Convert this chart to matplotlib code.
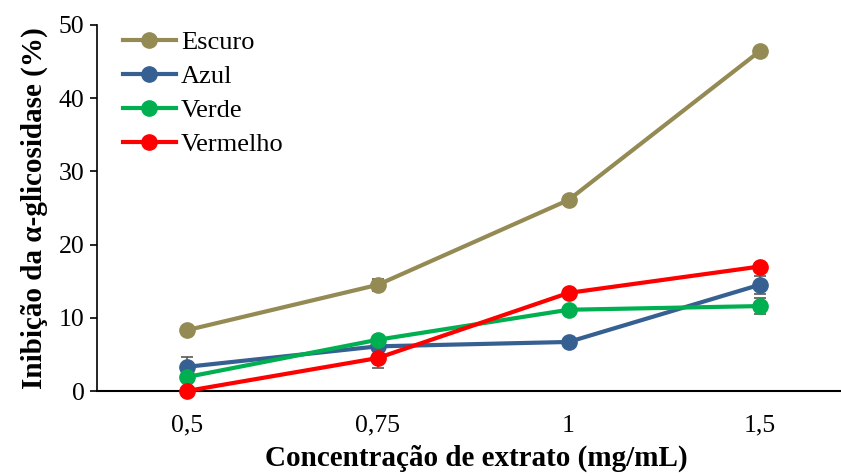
import matplotlib
matplotlib.use("Agg")
import matplotlib.pyplot as plt

categories = ["0,5", "0,75", "1", "1,5"]
escuro = [8.3, 14.5, 26.1, 46.4]
escuro_err = [0.3, 0.8, 0.5, 0.4]
azul = [3.3, 6.1, 6.7, 14.5]
azul_err = [1.4, 0.4, 0.3, 1.2]
verde = [1.9, 7.0, 11.1, 11.6]
verde_err = [0.3, 0.4, 0.3, 1.1]
vermelho = [0.0, 4.5, 13.4, 17.0]
vermelho_err = [0.2, 1.3, 0.6, 0.5]

series = [
    ("Escuro", escuro, escuro_err, "#948A54"),
    ("Azul", azul, azul_err, "#376092"),
    ("Verde", verde, verde_err, "#00B050"),
    ("Vermelho", vermelho, vermelho_err, "#FF0000"),
]

plt.rcParams['font.family'] = ['Liberation Serif', 'DejaVu Serif']

fig = plt.figure(figsize=(8.41, 4.76), dpi=100)
ax = fig.add_axes([97/841, 85/476, 758/841, 366/476])
x = list(range(len(categories)))

for name, vals, err, col in series:
    ax.errorbar(x, vals, yerr=err, fmt='none', ecolor='#595959', elinewidth=1.2,
                capsize=4, capthick=1.2, zorder=2)
for name, vals, err, col in series:
    ax.plot(x, vals, color=col, lw=3.0, marker='o', ms=11, label=name, zorder=3,
            clip_on=False)

ax.set_xlim(-0.47, 3.5)
ax.set_ylim(0, 50)
ax.set_yticks([0, 10, 20, 30, 40, 50])
ax.set_xticks(x)
ax.set_xticklabels(categories)
ax.tick_params(axis='x', length=0, pad=17, labelsize=18.5)
ax.tick_params(axis='y', length=5, width=1.2, direction='out', labelsize=18.5, pad=4)
for s in ['top', 'right']:
    ax.spines[s].set_visible(False)
ax.spines['left'].set_linewidth(1.2)
ax.spines['bottom'].set_linewidth(1.5)

ax.set_xlabel("Concentração de extrato (mg/mL)", fontsize=21, fontweight='bold', labelpad=6)
ax.set_ylabel("Inibição da α-glicosidase (%)", fontsize=21, fontweight='bold', labelpad=8)

leg = ax.legend(loc='upper left', bbox_to_anchor=(0.003, 1.05), frameon=False,
                fontsize=19, handlelength=2.0, handletextpad=0.2, labelspacing=0.4)

fig.savefig("out.png", dpi=100)
